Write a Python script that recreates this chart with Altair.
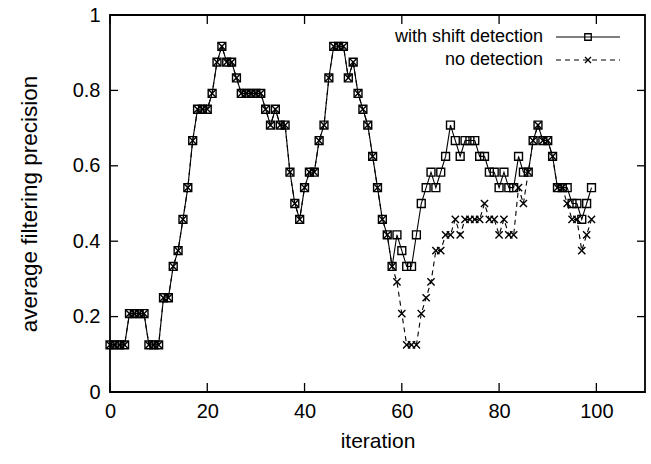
import altair as alt
import pandas as pd

# ---------------- data ----------------
iterations = list(range(100))

with_shift = [
    0.125, 0.125, 0.125, 0.125, 0.208, 0.208, 0.208, 0.208, 0.125, 0.125,
    0.125, 0.25, 0.25, 0.333, 0.375, 0.458, 0.542, 0.667, 0.75, 0.75,
    0.75, 0.792, 0.875, 0.917, 0.875, 0.875, 0.833, 0.792, 0.792, 0.792,
    0.792, 0.792, 0.75, 0.708, 0.75, 0.708, 0.708, 0.583, 0.5, 0.458,
    0.542, 0.583, 0.583, 0.667, 0.708, 0.833, 0.917, 0.917, 0.917, 0.833,
    0.875, 0.792, 0.75, 0.708, 0.625, 0.542, 0.458, 0.417, 0.333, 0.417,
    0.375, 0.333, 0.333, 0.417, 0.5, 0.542, 0.583, 0.542, 0.583, 0.625,
    0.708, 0.667, 0.625, 0.667, 0.667, 0.667, 0.625, 0.625, 0.583, 0.583,
    0.542, 0.583, 0.542, 0.542, 0.625, 0.583, 0.583, 0.667, 0.708, 0.667,
    0.667, 0.625, 0.542, 0.542, 0.542, 0.5, 0.5, 0.458, 0.5, 0.542,
]

no_detection = [
    0.125, 0.125, 0.125, 0.125, 0.208, 0.208, 0.208, 0.208, 0.125, 0.125,
    0.125, 0.25, 0.25, 0.333, 0.375, 0.458, 0.542, 0.667, 0.75, 0.75,
    0.75, 0.792, 0.875, 0.917, 0.875, 0.875, 0.833, 0.792, 0.792, 0.792,
    0.792, 0.792, 0.75, 0.708, 0.75, 0.708, 0.708, 0.583, 0.5, 0.458,
    0.542, 0.583, 0.583, 0.667, 0.708, 0.833, 0.917, 0.917, 0.917, 0.833,
    0.875, 0.792, 0.75, 0.708, 0.625, 0.542, 0.458, 0.417, 0.333, 0.292,
    0.208, 0.125, 0.125, 0.125, 0.208, 0.25, 0.292, 0.375, 0.375, 0.417,
    0.417, 0.458, 0.417, 0.458, 0.458, 0.458, 0.458, 0.5, 0.458, 0.458,
    0.417, 0.458, 0.417, 0.417, 0.542, 0.5, 0.583, 0.667, 0.708, 0.667,
    0.667, 0.625, 0.542, 0.542, 0.5, 0.458, 0.458, 0.375, 0.417, 0.458,
]

series_names = ["with shift detection", "no detection"]
x_ticks = [0, 20, 40, 60, 80, 100]
y_ticks = [0, 0.2, 0.4, 0.6, 0.8, 1]
x_domain = [0, 110]
y_domain = [0, 1]

# ---------------- layout / style ----------------
W, H = 535, 377
FONT = "Liberation Sans"
TICK_PX_X = 9   # length of inward ticks on the x axis (px)
TICK_PX_Y = 8   # length of inward ticks on the y axis (px)
X_CROSS = "M-1,-1L1,1M-1,1L1,-1"
SQ_SIZE, X_SIZE = 62, 52

df = pd.DataFrame({
    "iteration": iterations + iterations,
    "precision": with_shift + no_detection,
    "series": [series_names[0]] * len(iterations) + [series_names[1]] * len(iterations),
})

# inward tick segments (gnuplot-style, mirrored on all four sides)
tl_y = TICK_PX_X / H * (y_domain[1] - y_domain[0])
tl_x = TICK_PX_Y / W * (x_domain[1] - x_domain[0])
seg = []
for t in x_ticks:
    seg.append({"iteration": t, "iteration2": t, "precision": y_domain[0], "precision2": y_domain[0] + tl_y})
    seg.append({"iteration": t, "iteration2": t, "precision": y_domain[1], "precision2": y_domain[1] - tl_y})
for t in y_ticks:
    seg.append({"iteration": x_domain[0], "iteration2": x_domain[0] + tl_x, "precision": t, "precision2": t})
    seg.append({"iteration": x_domain[1], "iteration2": x_domain[1] - tl_x, "precision": t, "precision2": t})
ticks_df = pd.DataFrame(seg)

xs = alt.Scale(domain=x_domain, nice=False, zero=False)
ys = alt.Scale(domain=y_domain, nice=False, zero=False)

x_axis = alt.Axis(values=x_ticks, title="iteration", labelPadding=9, titlePadding=9,
                  labelFlush=False, titleFontSize=21)
y_axis = alt.Axis(values=y_ticks, title="average filtering precision", format="~g",
                  labelPadding=10, titlePadding=31, titleFontSize=22.5)

X = alt.X("iteration:Q", scale=xs, axis=x_axis)
Y = alt.Y("precision:Q", scale=ys, axis=y_axis)

shift_data = alt.Chart(df).transform_filter(alt.datum.series == series_names[0])
nodet_data = alt.Chart(df).transform_filter(alt.datum.series == series_names[1])

nodet_line = nodet_data.mark_line(color="black", strokeWidth=1.1, strokeDash=[5, 4]).encode(x=X, y=Y)
nodet_pts = nodet_data.mark_point(shape=X_CROSS, size=X_SIZE, filled=False, color="black",
                                  strokeWidth=1.4, opacity=1).encode(x=X, y=Y)
shift_line = shift_data.mark_line(color="black", strokeWidth=1.1).encode(x=X, y=Y)
shift_pts = shift_data.mark_point(shape="square", size=SQ_SIZE, filled=False, color="black",
                                  strokeWidth=1.4, opacity=1).encode(x=X, y=Y)

ticks = alt.Chart(ticks_df).mark_rule(color="black", strokeWidth=1.3).encode(
    x=X, x2="iteration2:Q", y=Y, y2="precision2:Q",
)

# ---------------- legend (gnuplot style: label left, sample right) ----------------
legend_df = pd.DataFrame({"series": series_names})
LEG_TEXT_X, LEG_X1, LEG_X2, LEG_MX = 433, 446, 510, 478
LEG_Y = [22, 45]

legend_layers = []
for i, name in enumerate(series_names):
    src = alt.Chart(legend_df).transform_filter(alt.datum.series == name)
    legend_layers.append(
        src.mark_text(align="right", baseline="middle", font=FONT, fontSize=18, color="black")
        .encode(x=alt.value(LEG_TEXT_X), y=alt.value(LEG_Y[i]), text="series:N")
    )
    rule_kw = dict(color="black", strokeWidth=1)
    if i == 1:
        rule_kw["strokeDash"] = [5, 4]
    legend_layers.append(
        src.mark_rule(**rule_kw).encode(x=alt.value(LEG_X1), x2=alt.value(LEG_X2), y=alt.value(LEG_Y[i]))
    )
    shape = "square" if i == 0 else X_CROSS
    size = 42 if i == 0 else 36
    legend_layers.append(
        src.mark_point(shape=shape, size=size, filled=False, color="black", strokeWidth=1.3,
                       opacity=1).encode(x=alt.value(LEG_MX), y=alt.value(LEG_Y[i]))
    )

chart = alt.layer(
    nodet_line, nodet_pts, shift_line, shift_pts, ticks, *legend_layers
).properties(
    width=W,
    height=H,
    autosize=alt.AutoSizeParams(type="none"),
    padding={"left": 110, "top": 15, "right": 6, "bottom": 72},
    background="white",
).configure_view(
    stroke="black", strokeWidth=1.8
).configure_axis(
    domain=False, ticks=False, grid=False,
    labelFont=FONT, labelFontSize=20, labelColor="black",
    titleFont=FONT, titleFontWeight="normal", titleColor="black",
)

chart.save("out.html", embed_options={"renderer": "svg", "actions": False})
